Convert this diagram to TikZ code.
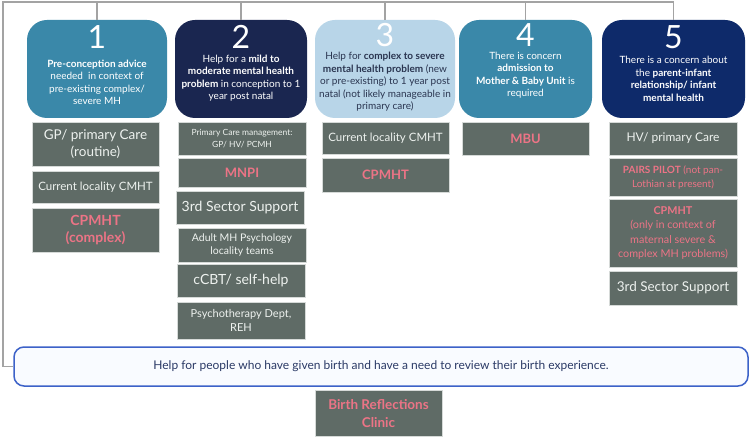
\documentclass[tikz,border=0pt]{standalone}
\usepackage{fontspec}
\setmainfont{Lato}
\definecolor{teal1}{HTML}{3A88A9}
\definecolor{navy2}{HTML}{1A2650}
\definecolor{light3}{HTML}{B8D5E8}
\definecolor{navy5}{HTML}{0E2A6A}
\definecolor{boxgray}{HTML}{5F6B66}
\definecolor{boxedge}{HTML}{D6DAD8}
\definecolor{boxtxt}{HTML}{EEF2EF}
\definecolor{pinktxt}{HTML}{EC7486}
\definecolor{dark3}{HTML}{2A3550}
\definecolor{blueborder}{HTML}{3D62C8}
\definecolor{bottomfill}{HTML}{F9FBFF}
\definecolor{bottomtxt}{HTML}{2B3A66}
\definecolor{linegray}{HTML}{A3A3A3}
\begin{document}
\begin{tikzpicture}[x=1pt,y=-1pt,
  tbox/.style={rounded corners=20pt, inner sep=0pt, minimum height=98pt},
  digit/.style={inner sep=0pt, font=\fontsize{32}{32}\selectfont},
  ttext/.style={inner sep=0pt, align=center, font=\fontsize{10}{12.5}\selectfont},
  gbox/.style={fill=boxgray, draw=boxedge, line width=0.8pt, inner sep=1pt, align=center, text=boxtxt},
  pk/.style={text=pinktxt},
  conn/.style={draw=linegray, line width=1.2pt}
]
\useasboundingbox (0,0) rectangle (752,438);
\fill[white] (0,0) rectangle (752,438);

% top boxes
\node[tbox, fill=teal1, minimum width=140pt] (b1) at (97,69) {};
\node[tbox, fill=navy2, minimum width=132pt] (b2) at (241,69) {};
\node[tbox, fill=light3, minimum width=140pt] (b3) at (385,69) {};
\node[tbox, fill=teal1, minimum width=133pt] (b4) at (525.5,69) {};
\node[tbox, fill=navy5, minimum width=143pt] (b5) at (673.5,69) {};

\node[digit, text=white] (d1) at (97,37) {1};
\node[digit, text=white] (d2) at (241,37) {2};
\node[digit, text=white] (d3) at (385,35) {3};
\node[digit, text=white] (d4) at (525.5,35) {4};
\node[digit, text=white] (d5) at (673.5,37) {5};

\node[ttext, text=white] (t1) at (97,82.5) {\textbf{Pre-conception advice}\\needed\ \ in context of\\pre-existing complex/\\severe MH};
\node[ttext, text=white] (t2) at (241,78) {Help for a \textbf{mild to}\\\textbf{moderate mental health}\\\textbf{problem} in conception to 1\\year post natal};
\node[ttext, text=dark3] (t3) at (385,82) {Help for \textbf{complex to severe}\\\textbf{mental health problem} (new\\or pre-existing) to 1 year post\\natal (not likely manageable in\\primary care)};
\node[ttext, text=white] (t4) at (525.5,75) {There is concern\\\textbf{admission to}\\\textbf{Mother \& Baby Unit} is\\required};
\node[ttext, text=white] (t5) at (673.5,79) {There is a concern about\\the \textbf{parent-infant}\\\textbf{relationship/ infant}\\\textbf{mental health}};

% column 1
\node[gbox, minimum width=127pt, minimum height=44pt, font=\fontsize{13.5}{17}\selectfont] (g11) at (95.5,144) {GP/ primary Care\\(routine)};
\node[gbox, minimum width=127pt, minimum height=32pt, font=\fontsize{11.5}{13}\selectfont] (g12) at (95.5,187) {Current locality CMHT};
\node[gbox, pk, minimum width=127pt, minimum height=44pt, font=\fontsize{14}{17}\selectfont\bfseries] (g13) at (95.5,230) {CPMHT\\(complex)};

% column 2
\node[gbox, minimum width=128pt, minimum height=33pt, font=\fontsize{8.5}{11.5}\selectfont] (g21) at (242,138.5) {Primary Care management:\\GP/ HV/ PCMH};
\node[gbox, pk, minimum width=128pt, minimum height=29pt, font=\fontsize{13}{14}\selectfont\bfseries] (g22) at (242,172.5) {MNPI};
\node[gbox, minimum width=128pt, minimum height=33pt, font=\fontsize{14}{16}\selectfont] (g23) at (240,207.5) {3rd Sector Support};
\node[gbox, minimum width=128pt, minimum height=34pt, font=\fontsize{10.5}{13}\selectfont] (g24) at (242,245) {Adult MH Psychology\\locality teams};
\node[gbox, minimum width=128pt, minimum height=33pt, font=\fontsize{14}{16}\selectfont] (g25) at (241,280.5) {cCBT/ self-help};
\node[gbox, minimum width=128pt, minimum height=37pt, font=\fontsize{11}{14}\selectfont] (g26) at (241,320.5) {Psychotherapy Dept,\\REH};

% column 3
\node[gbox, minimum width=127pt, minimum height=32pt, font=\fontsize{11.5}{13}\selectfont] (g31) at (385.5,138) {Current locality CMHT};
\node[gbox, pk, minimum width=127pt, minimum height=34pt, font=\fontsize{13}{14}\selectfont\bfseries] (g32) at (385.5,175) {CPMHT};

% column 4
\node[gbox, pk, minimum width=127pt, minimum height=33pt, font=\fontsize{13}{14}\selectfont\bfseries] (g41) at (525.5,138.5) {MBU};

% column 5
\node[gbox, minimum width=128pt, minimum height=33pt, font=\fontsize{12}{13}\selectfont] (g51) at (673,138.5) {HV/ primary Care};
\node[gbox, pk, minimum width=128pt, minimum height=38pt, font=\fontsize{10}{14}\selectfont] (g52) at (673,177) {\textbf{PAIRS PILOT} (not pan-\\Lothian at present)};
\node[gbox, pk, minimum width=128pt, minimum height=68pt, font=\fontsize{10.8}{14.5}\selectfont] (g53) at (673,233) {\textbf{CPMHT}\\(only in context of\\maternal severe \&\\complex MH problems)};
\node[gbox, minimum width=128pt, minimum height=34pt, font=\fontsize{13.5}{15}\selectfont] (g54) at (673,288) {3rd Sector Support};

% bottom
\node[draw=blueborder, line width=1.5pt, fill=bottomfill, rounded corners=10pt, minimum width=734pt, minimum height=39pt, text=bottomtxt, font=\fontsize{12}{14}\selectfont] (bot) at (381,366.5) {Help for people who have given birth and have a need to review their birth experience.};
\node[gbox, pk, minimum width=127pt, minimum height=46pt, font=\fontsize{13.5}{18}\selectfont\bfseries] (br) at (378.5,413.5) {Birth Reflections\\Clinic};

% connectors
\coordinate (tl) at (3,2);
\draw[conn] (b5.north) |- (tl) |- (bot.west);
\draw[conn] (b1.north) -- (b1.north |- tl);
\draw[conn] (b2.north) -- (b2.north |- tl);
\draw[conn] (b3.north) -- (b3.north |- tl);
\draw[conn] (b4.north) -- (b4.north |- tl);
\end{tikzpicture}
\end{document}
